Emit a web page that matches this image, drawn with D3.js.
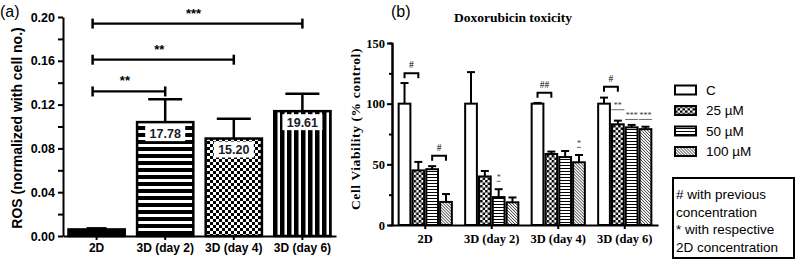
<!DOCTYPE html>
<html>
<head>
<meta charset="utf-8">
<script src="https://cdn.jsdelivr.net/npm/d3@7"></script>
<style>
  body { margin: 0; background: #fff; }
  svg { display: block; }
  .sans { font-family: "Liberation Sans", Arial, sans-serif; }
  .serif { font-family: "Liberation Serif", "Times New Roman", serif; }
</style>
</head>
<body>
<div id="chart"></div>
<script>
// ---- panel (a) data ----
var catsA = ["2D", "3D (day 2)", "3D (day 4)", "3D (day 6)"];
var rosMean = [0.006, 0.104, 0.089, 0.114];
var rosErr = [0.001, 0.021, 0.018, 0.016];
var rosLabels = ["", "17.78", "15.20", "19.61"];
var rosFills = ["solid", "hstripe", "checker", "vstripe"];
var sigA = [
  { from: 0, to: 1, y: 0.132, text: "**" },
  { from: 0, to: 2, y: 0.161, text: "**" },
  { from: 0, to: 3, y: 0.194, text: "***" }
];

// ---- panel (b) data ----
var groupsB = ["2D", "3D (day 2)", "3D (day 4)", "3D (day 6)"];
var concs = ["C", "25 \u00b5M", "50 \u00b5M", "100 \u00b5M"];
var viabC = [100, 100, 100, 100];
var viab25 = [45, 40, 58.5, 83];
var viab50 = [46, 23, 56, 80.5];
var viab100 = [19, 18.7, 51.7, 79];
var errC = [17, 26, 0.6, 5];
var err25 = [7, 4.5, 2, 3];
var err50 = [2.5, 6.5, 5, 2];
var err100 = [6.5, 4, 6, 2];
// "#" brackets vs previous concentration (group, conc a, conc b, height)
var hashMarks = [
  { g: 0, a: 0, b: 1, y: 125, text: "#" },
  { g: 0, a: 2, b: 3, y: 57, text: "#" },
  { g: 2, a: 0, b: 1, y: 109, text: "##" },
  { g: 3, a: 0, b: 1, y: 114, text: "#" }
];
// "*" vs respective 2D concentration (group, conc, height of dash)
var starMarks = [
  { g: 1, c: 2, y: 36, text: "*" },
  { g: 2, c: 3, y: 64, text: "*" },
  { g: 3, c: 1, y: 95, text: "**" },
  { g: 3, c: 2, y: 87, text: "***" },
  { g: 3, c: 3, y: 87, text: "***" }
];
var concFills = ["white", "url(#bCheck)", "url(#bHstripe)", "url(#bDiag)"];
var noteLines = ["# with previous", "concentration", "* with respective", "2D concentration"];

var svg = d3.select("#chart").append("svg")
  .attr("width", 796).attr("height", 262);

// patterns
var defs = svg.append("defs");
function pat(id, w, h) {
  var p = defs.append("pattern").attr("id", id)
    .attr("patternUnits", "userSpaceOnUse").attr("width", w).attr("height", h);
  p.append("rect").attr("width", w).attr("height", h).attr("fill", "#fff");
  return p;
}
var p1 = pat("aHstripe", 7, 7);
p1.append("rect").attr("width", 7).attr("height", 4).attr("fill", "#000");
var p2 = pat("aChecker", 6, 6);
p2.append("rect").attr("width", 3).attr("height", 3).attr("fill", "#000");
p2.append("rect").attr("x", 3).attr("y", 3).attr("width", 3).attr("height", 3).attr("fill", "#000");
var p3 = pat("aVstripe", 7, 7);
p3.append("rect").attr("width", 4.5).attr("height", 7).attr("fill", "#000");
var p4 = pat("bCheck", 5, 5);
p4.append("rect").attr("width", 2.5).attr("height", 2.5).attr("fill", "#000");
p4.append("rect").attr("x", 2.5).attr("y", 2.5).attr("width", 2.5).attr("height", 2.5).attr("fill", "#000");
var p5 = pat("bHstripe", 3, 3);
p5.append("rect").attr("width", 3).attr("height", 1).attr("fill", "#000");
var p6 = pat("bDiag", 3, 3);
p6.append("path").attr("d", "M-1,-1 L4,4 M-1,2 L1,4 M2,-1 L4,1").attr("stroke", "#000").attr("stroke-width", 0.8);

var fillMap = { solid: "#000", hstripe: "url(#aHstripe)", checker: "url(#aChecker)", vstripe: "url(#aVstripe)" };

// =========== panel (a) ===========
var yA = d3.scaleLinear([0, 0.2], [236, 17]);
var xA = d3.scaleBand(catsA, [63, 336]).paddingInner(0.18).paddingOuter(0.08);

var gA = svg.append("g");

gA.selectAll(".barA").data(catsA).enter().append("rect")
  .attr("x", function(d) { return xA(d); })
  .attr("y", function(d, i) { return yA(rosMean[i]); })
  .attr("width", xA.bandwidth())
  .attr("height", function(d, i) { return yA(0) - yA(rosMean[i]); })
  .attr("fill", function(d, i) { return fillMap[rosFills[i]]; })
  .attr("stroke", "#000").attr("stroke-width", 2.5);

// error bars
catsA.forEach(function(c, i) {
  var cx = xA(c) + xA.bandwidth() / 2;
  var capW = i == 0 ? 20 : 34;
  gA.append("line").attr("x1", cx).attr("x2", cx)
    .attr("y1", yA(rosMean[i])).attr("y2", yA(rosMean[i] + rosErr[i]))
    .attr("stroke", "#000").attr("stroke-width", 2.5);
  gA.append("line").attr("x1", cx - capW / 2).attr("x2", cx + capW / 2)
    .attr("y1", yA(rosMean[i] + rosErr[i])).attr("y2", yA(rosMean[i] + rosErr[i]))
    .attr("stroke", "#000").attr("stroke-width", 2.5);
  if (rosLabels[i]) {
    var by = yA(rosMean[i]) + 3;
    gA.append("rect").attr("x", cx - 20).attr("y", by).attr("width", 40).attr("height", 16)
      .attr("fill", "#fff");
    gA.append("text").attr("class", "sans")
      .attr("x", cx).attr("y", by + 8).attr("dy", "0.36em")
      .attr("text-anchor", "middle").attr("font-size", "12.5px").attr("font-weight", "bold")
      .attr("fill", "#1b1b2a").text(rosLabels[i]);
  }
});

// significance brackets
sigA.forEach(function(s) {
  var x1 = xA(catsA[s.from]) + xA.bandwidth() / 2 - 4;
  var x2 = xA(catsA[s.to]) + xA.bandwidth() / 2;
  var y = yA(s.y);
  gA.append("line").attr("x1", x1).attr("x2", x2).attr("y1", y).attr("y2", y)
    .attr("stroke", "#000").attr("stroke-width", 2.2);
  [x1, x2].forEach(function(x) {
    gA.append("line").attr("x1", x).attr("x2", x).attr("y1", y - 5).attr("y2", y + 5)
      .attr("stroke", "#000").attr("stroke-width", 2.5);
  });
  gA.append("text").attr("class", "sans")
    .attr("x", (x1 + x2) / 2 - 4).attr("y", y - 6)
    .attr("text-anchor", "middle").attr("font-size", "13px").attr("font-weight", "bold")
    .text(s.text);
});

// axes (a)
var yAxisA = d3.axisLeft(yA).tickValues(d3.range(0, 0.2001, 0.02))
  .tickFormat(function(d) { return Math.round(d * 100) % 4 == 0 ? d3.format(".2f")(d) : ""; })
  .tickSize(5).tickSizeOuter(0).tickPadding(3);
var ya = gA.append("g").attr("transform", "translate(63,0)").call(yAxisA);
ya.selectAll("text").attr("class", "sans").attr("font-size", "12.5px").attr("font-weight", "bold").attr("fill", "#000");

var xAxisA = d3.axisBottom(xA).tickSize(4).tickSizeOuter(0).tickPadding(3);
var xa = gA.append("g").attr("transform", "translate(0,236)").call(xAxisA);
xa.selectAll("text").attr("class", "sans").attr("font-size", "12px").attr("font-weight", "bold").attr("fill", "#000");
gA.selectAll(".domain, .tick line").attr("stroke", "#000").attr("stroke-width", 2);

gA.append("text").attr("class", "sans")
  .attr("transform", "translate(17,128) rotate(-90)")
  .attr("text-anchor", "middle").attr("dy", "0.36em")
  .attr("font-size", "14px").attr("font-weight", "bold")
  .text("ROS (normalized with cell no.)");

svg.append("text").attr("class", "sans").attr("x", 0).attr("y", 17)
  .attr("font-size", "16px").text("(a)");

// =========== panel (b) ===========
var yB = d3.scaleLinear([0, 150], [225, 43]);
var xB0 = d3.scaleBand(groupsB, [392, 658]).paddingInner(0.2).paddingOuter(0.1);
var xB1 = d3.scaleBand(concs, [0, xB0.bandwidth()]).paddingInner(0.15);
var vals = [viabC, viab25, viab50, viab100];
var errs = [errC, err25, err50, err100];

var gB = svg.append("g");

var grp = gB.selectAll(".grp").data(groupsB).enter().append("g")
  .attr("transform", function(d) { return "translate(" + xB0(d) + ",0)"; });

grp.each(function(g, gi) {
  var sel = d3.select(this);
  concs.forEach(function(c, ci) {
    var v = vals[ci][gi], e = errs[ci][gi];
    var x = xB1(c), w = xB1.bandwidth(), cx = x + w / 2;
    sel.append("line").attr("x1", cx).attr("x2", cx)
      .attr("y1", yB(v)).attr("y2", yB(v + e))
      .attr("stroke", "#000").attr("stroke-width", 2);
    sel.append("line").attr("x1", cx - 4).attr("x2", cx + 4)
      .attr("y1", yB(v + e)).attr("y2", yB(v + e))
      .attr("stroke", "#000").attr("stroke-width", 2);
    sel.append("rect").attr("x", x).attr("y", yB(v))
      .attr("width", w).attr("height", yB(0) - yB(v))
      .attr("fill", concFills[ci]).attr("stroke", "#000").attr("stroke-width", 2);
  });
});

hashMarks.forEach(function(h) {
  var g = groupsB[h.g];
  var x1 = xB0(g) + xB1(concs[h.a]) + xB1.bandwidth() / 2;
  var x2 = xB0(g) + xB1(concs[h.b]) + xB1.bandwidth() / 2;
  var y = yB(h.y);
  gB.append("path").attr("d", "M" + x1 + "," + (y + 5) + "V" + y + "H" + x2 + "V" + (y + 5))
    .attr("fill", "none").attr("stroke", "#000").attr("stroke-width", 2);
  gB.append("text").attr("class", "serif")
    .attr("x", (x1 + x2) / 2).attr("y", y - 5)
    .attr("text-anchor", "middle").attr("font-size", "9.5px")
    .text(h.text);
});

starMarks.forEach(function(s) {
  var cx = xB0(groupsB[s.g]) + xB1(concs[s.c]) + xB1.bandwidth() / 2;
  var y = yB(s.y);
  var hw = s.text.length > 1 ? 6.5 : 2;
  gB.append("line").attr("x1", cx - hw).attr("x2", cx + hw).attr("y1", y).attr("y2", y)
    .attr("stroke", "#444").attr("stroke-width", 0.8);
  gB.append("text").attr("class", "serif")
    .attr("x", cx).attr("y", y - 1.5)
    .attr("text-anchor", "middle").attr("font-size", "8px").attr("fill", "#333")
    .text(s.text);
});

// axes (b)
var yMinor = d3.axisLeft(yB).tickValues([25, 75, 125]).tickSize(3).tickFormat("");
gB.append("g").attr("transform", "translate(392,0)").call(yMinor);
var yAxisB = d3.axisLeft(yB).tickValues([0, 50, 100, 150]).tickSize(5).tickSizeOuter(0).tickPadding(2);
var yb = gB.append("g").attr("transform", "translate(392,0)").call(yAxisB);
yb.selectAll("text").attr("class", "serif").attr("font-size", "12.5px").attr("font-weight", "bold").attr("fill", "#000");

var xAxisB = d3.axisBottom(xB0).tickSize(4).tickSizeOuter(0).tickPadding(5);
var xb = gB.append("g").attr("transform", "translate(0,225)").call(xAxisB);
xb.selectAll("text").attr("class", "serif").attr("font-size", "12.5px").attr("font-weight", "bold").attr("fill", "#000");
gB.selectAll(".domain, .tick line").attr("stroke", "#000").attr("stroke-width", 2);

gB.append("text").attr("class", "serif")
  .attr("transform", "translate(355,129) rotate(-90)")
  .attr("text-anchor", "middle").attr("dy", "0.36em")
  .attr("font-size", "13.5px").attr("font-weight", "bold").attr("letter-spacing", "0.6px")
  .text("Cell Viability (% control)");

svg.append("text").attr("class", "serif").attr("x", 513).attr("y", 22)
  .attr("text-anchor", "middle").attr("font-size", "13.5px").attr("font-weight", "bold")
  .text("Doxorubicin toxicity");

svg.append("text").attr("class", "sans").attr("x", 391).attr("y", 17)
  .attr("font-size", "16px").text("(b)");

// legend
var leg = svg.selectAll(".leg").data(concs).enter().append("g")
  .attr("transform", function(d, i) { return "translate(675," + (90 + i * 20.5) + ")"; });
leg.append("rect").attr("x", 0).attr("y", -4.5).attr("width", 21).attr("height", 9)
  .attr("fill", function(d, i) { return concFills[i]; })
  .attr("stroke", "#000").attr("stroke-width", 2);
leg.append("text").attr("class", "sans").attr("x", 31).attr("dy", "0.36em")
  .attr("font-size", "13.5px").text(function(d) { return d; });

// note box
svg.append("rect").attr("x", 673).attr("y", 178).attr("width", 121).attr("height", 80)
  .attr("fill", "#fff").attr("stroke", "#000").attr("stroke-width", 2);
svg.selectAll(".note").data(noteLines).enter().append("text").attr("class", "sans")
  .attr("x", 676).attr("y", function(d, i) { return 194 + i * 17.7; }).attr("dy", "0.36em")
  .attr("font-size", "13.5px").text(function(d) { return d; });
</script>
</body>
</html>
